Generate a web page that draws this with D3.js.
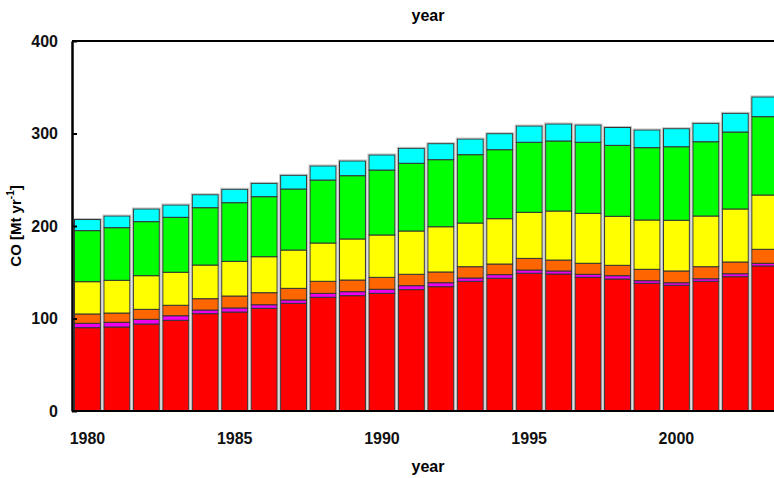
<!DOCTYPE html>
<html>
<head>
    <meta charset="utf-8">
    <title>CO emissions</title>
    <style>
        body { margin: 0; background: #fff; }
        svg { display: block; font-family: "Liberation Sans", Arial, sans-serif; }
        .tick text { font-size: 16px; font-weight: bold; fill: #111; }
    </style>
</head>
<body>
    <svg></svg>
    <script src="https://d3js.org/d3.v7.min.js"></script>
    <script>
        const years = d3.range(1980, 2004);
        // stacked layers, bottom to top (Mt/yr)
        const redVals     = [90.1, 90.8, 94.0, 98.0, 105.2, 107.0, 111.0, 116.4, 122.9, 124.7, 127.2, 131.2, 134.4, 140.2, 143.5, 148.9, 148.1, 144.5, 142.7, 138.0, 135.9, 140.2, 145.2, 156.8];
        const magentaVals = [4.7, 5.1, 5.1, 5.0, 4.0, 4.4, 3.9, 3.6, 4.3, 4.3, 4.4, 4.3, 4.3, 3.6, 3.9, 3.5, 3.3, 3.3, 3.6, 2.9, 2.8, 2.8, 3.2, 2.9];
        const orangeVals  = [10.1, 10.0, 10.8, 11.3, 12.2, 12.9, 13.0, 12.6, 13.0, 12.6, 12.9, 12.3, 11.6, 12.2, 11.5, 12.6, 11.8, 11.9, 11.2, 12.3, 12.7, 13.0, 12.7, 15.1];
        const yellowVals  = [34.9, 35.4, 36.4, 35.7, 36.4, 37.5, 38.9, 41.4, 41.4, 44.4, 45.8, 46.8, 48.9, 47.2, 49.0, 49.8, 53.0, 54.0, 53.0, 53.3, 54.8, 54.8, 57.3, 58.7];
        const greenVals   = [55.2, 56.9, 58.4, 59.4, 62.0, 63.4, 64.9, 66.0, 68.1, 68.4, 70.2, 73.2, 72.5, 73.9, 74.6, 75.7, 75.7, 76.8, 76.7, 78.2, 79.5, 80.3, 83.2, 84.7];
        const cyanVals    = [12.0, 12.6, 13.7, 13.3, 14.0, 14.5, 14.4, 14.8, 15.2, 15.9, 16.3, 16.2, 17.3, 16.9, 17.3, 17.6, 18.4, 18.7, 19.3, 19.1, 19.5, 19.9, 20.2, 21.3];
        const layerKeys   = ['red', 'magenta', 'orange', 'yellow', 'green', 'cyan'];
        const layerColors = ['#ff0000', '#ee00ee', '#ff6600', '#ffff00', '#00ff00', '#00ffff'];
        const yTicks = [0, 100, 200, 300, 400];
        const xTickYears = [1980, 1985, 1990, 1995, 2000];

        const width = 774;
        const height = 478;
        const margin = { top: 41, left: 72, bottom: 67 };
        const plotBottom = height - margin.bottom;

        const svg = d3.select('svg').attr('width', width).attr('height', height);

        const table = years.map((y, i) => ({
            year: y,
            red: redVals[i], magenta: magentaVals[i], orange: orangeVals[i],
            yellow: yellowVals[i], green: greenVals[i], cyan: cyanVals[i]
        }));
        const series = d3.stack().keys(layerKeys)(table);
        const total = d => layerKeys.reduce((s, k) => s + d[k], 0);

        const xScale = d3.scaleBand()
            .domain(years)
            .range([73.3, 73.3 + years.length * 29.4])
            .paddingInner(0.12)
            .paddingOuter(0.04);

        const yScale = d3.scaleLinear()
            .domain([0, 400])
            .range([plotBottom, margin.top]);

        // bars
        const layers = svg.append('g').selectAll('g').data(series).enter().append('g')
            .attr('fill', (d, i) => layerColors[i]);

        layers.selectAll('rect').data(d => d).enter().append('rect')
            .attr('x', d => xScale(d.data.year))
            .attr('y', d => yScale(d[1]))
            .attr('width', xScale.bandwidth())
            .attr('height', d => yScale(d[0]) - yScale(d[1]))
            .attr('stroke', '#333')
            .attr('stroke-width', 1);

        // soft grey halo round each bar
        svg.append('g').selectAll('rect').data(table).enter().append('rect')
            .attr('x', d => xScale(d.year) - 1)
            .attr('y', d => yScale(total(d)) - 1)
            .attr('width', xScale.bandwidth() + 2)
            .attr('height', d => plotBottom - yScale(total(d)) + 1)
            .attr('fill', 'none')
            .attr('stroke', '#999')
            .attr('stroke-opacity', 0.6)
            .attr('stroke-width', 1);

        // frame lines
        svg.append('line').attr('x1', margin.left).attr('x2', width)
            .attr('y1', margin.top).attr('y2', margin.top)
            .attr('stroke', '#000').attr('stroke-width', 2);
        svg.append('line').attr('x1', margin.left).attr('x2', width)
            .attr('y1', plotBottom).attr('y2', plotBottom)
            .attr('stroke', '#000').attr('stroke-width', 2);

        // y axis, ticks inward
        const yAxis = svg.append('g')
            .attr('transform', `translate(${margin.left},0)`)
            .call(d3.axisLeft(yScale).tickValues(yTicks).tickSize(-5).tickPadding(14).tickSizeOuter(0));
        yAxis.select('.domain').attr('stroke-width', 2.5);
        yAxis.selectAll('.tick line').attr('stroke-width', 2);

        // x axis labels
        const xAxis = svg.append('g')
            .attr('transform', `translate(0,${plotBottom})`)
            .call(d3.axisBottom(xScale).tickValues(xTickYears).tickSize(0).tickPadding(22));
        xAxis.select('.domain').remove();

        // titles
        svg.append('text').attr('x', 428).attr('y', 472)
            .attr('text-anchor', 'middle').attr('font-size', 16).attr('font-weight', 'bold')
            .text('year');
        svg.append('text').attr('x', 428).attr('y', 21)
            .attr('text-anchor', 'middle').attr('font-size', 16).attr('font-weight', 'bold')
            .text('year');

        const yLabel = svg.append('text')
            .attr('transform', 'translate(21,226) rotate(-90)')
            .attr('text-anchor', 'middle').attr('font-size', 15).attr('font-weight', 'bold');
        yLabel.append('tspan').text('CO [Mt yr');
        yLabel.append('tspan').attr('font-size', 10).attr('dy', -7).text('-1');
        yLabel.append('tspan').attr('dy', 7).text(']');
    </script>
</body>
</html>
